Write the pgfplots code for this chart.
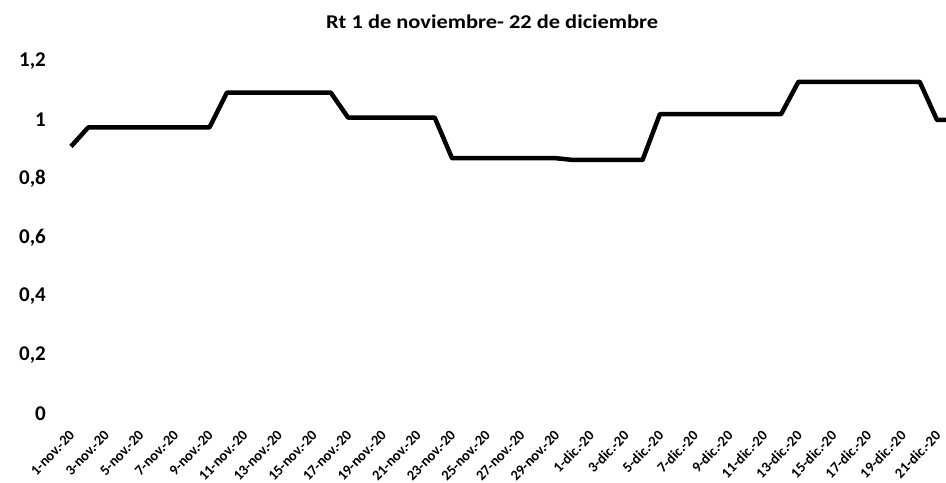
\documentclass[border=0pt]{standalone}
\usepackage{pgfplots}
\pgfplotsset{compat=1.18}
\usepackage{fontspec}
\setmainfont{Carlito}
\newfontfamily\wideCarlito{Carlito}[FakeStretch=1.15]
\begin{document}
\begin{tikzpicture}
\useasboundingbox (0,0) rectangle (946bp,483bp);
\begin{axis}[
  at={(62.34bp,69bp)}, anchor=south west,
  scale only axis, width=883.66bp, height=352.8bp,
  xmin=-0.5, xmax=50.52, ymin=0, ymax=1.2,
  axis line style={draw=none}, tick style={draw=none},
  ytick={0,0.2,0.4,0.6,0.8,1,1.2},
  /pgf/number format/use comma,
  /pgf/number format/assume math mode=true,
  yticklabel style={font=\fontsize{21bp}{24bp}\selectfont\bfseries, anchor=east, xshift=-13bp},
  xtick={0,2,...,50},
  xticklabels={1-nov.-20,3-nov.-20,5-nov.-20,7-nov.-20,9-nov.-20,11-nov.-20,13-nov.-20,15-nov.-20,17-nov.-20,19-nov.-20,21-nov.-20,23-nov.-20,25-nov.-20,27-nov.-20,29-nov.-20,1-dic.-20,3-dic.-20,5-dic.-20,7-dic.-20,9-dic.-20,11-dic.-20,13-dic.-20,15-dic.-20,17-dic.-20,19-dic.-20,21-dic.-20},
  xticklabel style={font=\fontsize{14.5bp}{16bp}\selectfont\bfseries, inner sep=0pt, xshift=1bp, yshift=-19bp, rotate=46, anchor=east},
  title={Rt 1 de noviembre- 22 de diciembre},
  title style={font=\wideCarlito\fontsize{19.5bp}{22bp}\selectfont\bfseries, at={(0.5,1)}, anchor=base, yshift=27bp, xshift=-12bp},
]
\addplot[black, line width=4.5bp, line join=round] coordinates {
(0,0.91) (1,0.975) (2,0.975) (3,0.975) (4,0.975) (5,0.975) (6,0.975) (7,0.975) (8,0.975)
(9,1.093) (10,1.093) (11,1.093) (12,1.093) (13,1.093) (14,1.093) (15,1.093)
(16,1.008) (17,1.008) (18,1.008) (19,1.008) (20,1.008) (21,1.008)
(22,0.870) (23,0.870) (24,0.870) (25,0.870) (26,0.870) (27,0.870) (28,0.870)
(29,0.864) (30,0.864) (31,0.864) (32,0.864) (33,0.864)
(34,1.020) (35,1.020) (36,1.020) (37,1.020) (38,1.020) (39,1.020) (40,1.020) (41,1.020)
(42,1.130) (43,1.130) (44,1.130) (45,1.130) (46,1.130) (47,1.130) (48,1.130) (49,1.130)
(50,1.0) (51,1.0)
};
\end{axis}
\end{tikzpicture}
\end{document}
